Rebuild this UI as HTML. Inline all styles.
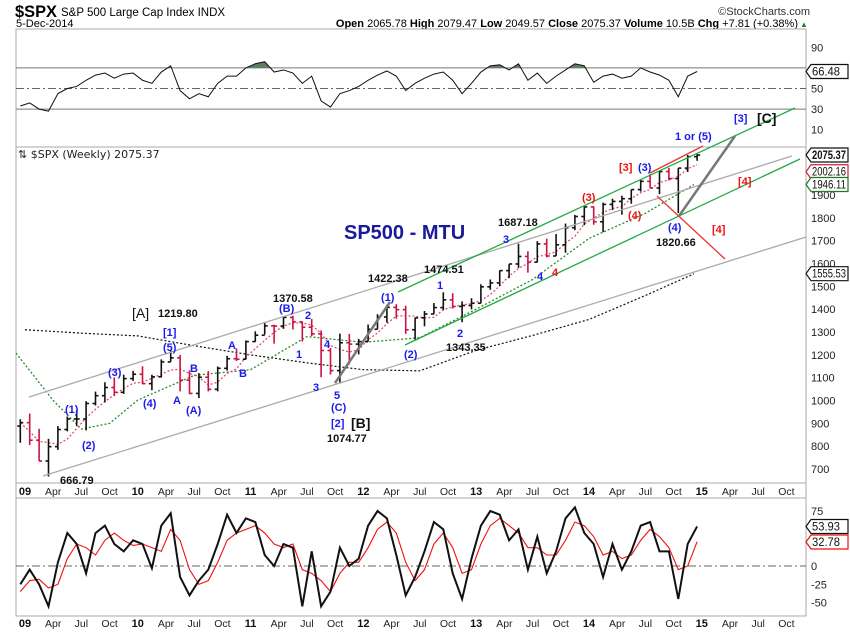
<!DOCTYPE html>
<html><head><meta charset="utf-8"><style>
body{margin:0;background:#fff;}
svg{display:block;font-family:"Liberation Sans",sans-serif;}
</style></head><body>
<svg id="c" width="850" height="633" viewBox="0 0 850 633">
<g>
<text x="15" y="17" font-size="17" font-weight="bold" textLength="42" lengthAdjust="spacingAndGlyphs">$SPX</text>
<text x="61" y="16" font-size="11.5">S&amp;P 500 Large Cap Index INDX</text>
<text x="16" y="27" font-size="11">5-Dec-2014</text>
<text x="810" y="15" font-size="11" text-anchor="end" fill="#333">©StockCharts.com</text>
<text x="798" y="27" font-size="11" text-anchor="end"><tspan font-weight="bold">Open</tspan> 2065.78 <tspan font-weight="bold">High</tspan> 2079.47 <tspan font-weight="bold">Low</tspan> 2049.57 <tspan font-weight="bold">Close</tspan> 2075.37 <tspan font-weight="bold">Volume</tspan> 10.5B <tspan font-weight="bold">Chg</tspan> +7.81 (+0.38%)</text>
<text x="800" y="27" font-size="8" fill="#2a7a2a">▲</text>
</g>
<rect x="16" y="29" width="790" height="587" fill="none" stroke="#aaa"/>
<line x1="16" y1="147" x2="806" y2="147" stroke="#aaa"/>
<rect x="0" y="484" width="850" height="13" fill="#fff"/>
<line x1="16" y1="483" x2="806" y2="483" stroke="#aaa"/>
<line x1="16" y1="498" x2="806" y2="498" stroke="#aaa"/>
<line x1="16" y1="483" x2="16" y2="498" stroke="#aaa"/>
<line x1="806" y1="483" x2="806" y2="498" stroke="#aaa"/>
<g id="rsiG"></g>
<g id="priceG"></g>
<g id="annG">
<g stroke-width="1.3" fill="none">
<line x1="29" y1="397" x2="792" y2="156" stroke="#aaa"/>
<line x1="43" y1="476" x2="806" y2="237" stroke="#aaa"/>
<line x1="398" y1="292" x2="795" y2="108" stroke="#22aa44"/>
<line x1="405" y1="345" x2="800" y2="159" stroke="#22aa44"/>
<line x1="650" y1="173" x2="703" y2="146" stroke="#ee3333"/>
<line x1="657" y1="196" x2="725" y2="259" stroke="#ee3333"/>
<line x1="335" y1="383" x2="390" y2="302" stroke="#777" stroke-width="2.5"/>
<line x1="679" y1="216" x2="735" y2="136" stroke="#777" stroke-width="2.5"/>
</g>
<g font-size="11" font-weight="bold" fill="#111">
<text x="60" y="484">666.79</text><text x="158" y="317">1219.80</text><text x="273" y="302">1370.58</text>
<text x="327" y="442">1074.77</text><text x="368" y="282">1422.38</text><text x="424" y="273">1474.51</text>
<text x="446" y="351">1343.35</text><text x="498" y="226">1687.18</text><text x="656" y="246">1820.66</text>
<text x="132" y="318" font-size="14" font-weight="normal">[A]</text><text x="351" y="428" font-size="14">[B]</text><text x="757" y="123" font-size="14">[C]</text>
</g>
<text x="344" y="239" font-size="20" font-weight="bold" fill="#1a1a9a">SP500 - MTU</text>
<g font-size="11" font-weight="bold" fill="#1a1aee">
<text x="163" y="336">[1]</text><text x="163" y="351">(5)</text><text x="108" y="376">(3)</text><text x="65" y="413">(1)</text>
<text x="82" y="449">(2)</text><text x="143" y="407">(4)</text><text x="173" y="404">A</text><text x="190" y="372">B</text>
<text x="186" y="414">(A)</text><text x="228" y="349">A</text><text x="239" y="377">B</text><text x="279" y="312">(B)</text>
<text x="305" y="319">2</text><text x="296" y="358">1</text><text x="324" y="348">4</text><text x="313" y="391">3</text>
<text x="334" y="399">5</text><text x="331" y="411">(C)</text><text x="331" y="427">[2]</text><text x="381" y="301">(1)</text>
<text x="404" y="358">(2)</text><text x="437" y="289">1</text><text x="457" y="337">2</text><text x="503" y="243">3</text>
<text x="537" y="280">4</text><text x="638" y="171">(3)</text><text x="668" y="231">(4)</text><text x="675" y="140">1 or (5)</text>
<text x="734" y="122">[3]</text>
</g>
<g font-size="11" font-weight="bold" fill="#ee1111">
<text x="552" y="276">4</text><text x="582" y="201">(3)</text><text x="628" y="219">(4)</text><text x="619" y="171">[3]</text>
<text x="712" y="233">[4]</text><text x="738" y="185">[4]</text>
</g>
</g>
<g id="axG"></g>
<g id="macdG"></g>
</svg>
<script>
// ---- data (monthly, Dec 2008 .. Dec 2014) ----
const months = ["Dec08","Jan09","Feb09","Mar09","Apr09","May09","Jun09","Jul09","Aug09","Sep09","Oct09","Nov09","Dec09","Jan10","Feb10","Mar10","Apr10","May10","Jun10","Jul10","Aug10","Sep10","Oct10","Nov10","Dec10","Jan11","Feb11","Mar11","Apr11","May11","Jun11","Jul11","Aug11","Sep11","Oct11","Nov11","Dec11","Jan12","Feb12","Mar12","Apr12","May12","Jun12","Jul12","Aug12","Sep12","Oct12","Nov12","Dec12","Jan13","Feb13","Mar13","Apr13","May13","Jun13","Jul13","Aug13","Sep13","Oct13","Nov13","Dec13","Jan14","Feb14","Mar14","Apr14","May14","Jun14","Jul14","Aug14","Sep14","Oct14","Nov14","Dec14"];
const closes = [903,826,735,798,873,919,919,987,1021,1057,1036,1096,1115,1074,1104,1169,1187,1089,1031,1102,1049,1141,1183,1181,1258,1286,1327,1326,1364,1345,1321,1292,1219,1131,1253,1247,1258,1312,1366,1408,1398,1310,1362,1379,1407,1441,1412,1416,1426,1498,1515,1569,1598,1631,1606,1686,1633,1682,1757,1806,1848,1783,1859,1872,1884,1924,1960,1931,2003,1972,2018,2068,2075];
const highs = [918,943,876,832,888,930,956,997,1039,1080,1101,1113,1130,1150,1113,1180,1220,1200,1132,1120,1129,1149,1196,1228,1263,1303,1344,1332,1366,1371,1346,1357,1307,1230,1293,1292,1270,1333,1378,1419,1422,1415,1363,1392,1427,1474,1470,1434,1448,1509,1530,1570,1597,1687,1654,1698,1709,1729,1775,1813,1849,1850,1867,1884,1897,1924,1968,1992,2005,2019,2018,2075,2079];
const lows = [815,805,735,667,784,865,888,869,978,992,1020,1029,1086,1071,1045,1101,1170,1040,1028,1011,1040,1040,1131,1173,1180,1257,1289,1249,1314,1311,1258,1282,1102,1114,1075,1158,1202,1258,1312,1341,1358,1292,1267,1325,1378,1396,1403,1343,1399,1426,1485,1501,1536,1581,1560,1605,1627,1633,1647,1746,1768,1770,1737,1834,1814,1862,1915,1930,1904,1964,1821,2001,2050];
const ma200T = [0,0.5,1,1.5,2,2.5,3,3.5,4,4.5,5,5.5,5.93];
const ma200V = [1310,1295,1283,1240,1200,1165,1135,1130,1220,1285,1355,1460,1555];
const ma50T = [-0.08,0.25,0.5,0.75,1,1.5,2,2.5,3,3.5,4,4.5,5,5.5,5.93];
const ma50V = [1208,1000,875,900,1002,1110,1135,1280,1255,1275,1400,1530,1710,1820,1946];
const rsiVals = [33,36,30,28,45,50,52,58,63,65,60,64,65,58,55,66,72,48,40,45,42,55,62,62,70,74,76,66,68,65,55,62,38,32,45,48,52,58,63,67,62,48,55,60,64,66,58,45,55,66,72,73,68,74,58,65,55,62,68,74,72,56,62,64,60,62,70,66,63,58,42,62,66.5];
const macdVals = [-25,-5,-25,-55,5,45,30,-10,45,55,30,20,35,30,-3,55,72,-15,-40,-20,-5,30,70,45,65,60,15,0,30,25,-55,20,-55,-35,25,0,10,55,75,65,15,-40,-15,20,60,50,-10,-45,10,55,75,70,35,50,-5,40,-10,20,65,80,45,30,-15,30,-5,20,55,60,20,20,-45,30,54];
const signalVals = [-35,-20,-18,-30,-25,10,30,25,15,35,45,35,28,30,25,20,50,35,-5,-25,-20,5,35,45,50,55,45,30,25,30,-5,-10,-20,-35,-10,5,5,25,50,60,45,5,-20,-5,30,45,25,-10,-5,30,55,65,55,45,25,25,15,15,35,60,55,40,15,20,10,15,35,50,40,25,-5,0,33];
const priceTicks = [700,800,900,1000,1100,1200,1300,1400,1500,1600,1700,1800,1900];
const rsiTicks = [90,50,30,10];
const macdTicks = [75,0,-25,-50];
const yearLabels = ["09","10","11","12","13","14","15"];
const subLabels = ["Apr","Jul","Oct"];

// ---- axes ----
const NS="http://www.w3.org/2000/svg";
const xT = t => 25 + t*112.8;
const xM = i => xT((i-1+0.5)/12);
const yP = p => 469 - (p-700)*0.2283;
const yR = v => 88.5 - (v-50)*1.03;
const yM = v => 566 - v*0.733;
function mk(tag, parent, attrs){const e=document.createElementNS(NS,tag);for(const k in attrs)e.setAttribute(k,attrs[k]);parent.appendChild(e);return e;}
const priceG=document.getElementById('priceG'),rsiG=document.getElementById('rsiG'),macdG=document.getElementById('macdG'),axG=document.getElementById('axG');

// RSI panel
[[70,"none"],[30,"none"],[50,"8,3,2,3"]].forEach(([v,d])=>{
  const l=mk('line',rsiG,{x1:16,x2:806,y1:yR(v),y2:yR(v),stroke:v===50?'#666':'#777','stroke-dasharray':d});
  
  
});
const clip=mk('clipPath',rsiG,{id:'ob'});mk('rect',clip,{x:16,y:29,width:790,height:yR(70)-29});
let rp=`M${xM(0)},${yR(70)} `+rsiVals.map((v,i)=>`L${xM(i)},${yR(v)}`).join(' ')+` L${xM(rsiVals.length-1)},${yR(70)}Z`;
const ob=mk('path',rsiG,{d:rp,fill:'#5e7f5e','clip-path':'url(#ob)'});


const rl=mk('polyline',rsiG,{points:rsiVals.map((v,i)=>xM(i)+','+yR(v)).join(' '),fill:'none',stroke:'#111','stroke-width':1});


rsiTicks.forEach(v=>{const t=mk('text',rsiG,{x:811,y:yR(v)+4,'font-size':11,fill:'#222'});t.textContent=v;
  
  });

// price panel
const pl=mk('text',priceG,{x:18,y:158,'font-size':11,'font-family':'DejaVu Sans, sans-serif',fill:'#222'});pl.textContent='⇅ $SPX (Weekly) 2075.37';


const m200=mk('polyline',priceG,{points:ma200T.map((t,i)=>xT(t)+','+yP(ma200V[i])).join(' '),fill:'none',stroke:'#111','stroke-dasharray':'2,2','stroke-width':1.2});


const m50=mk('polyline',priceG,{points:ma50T.map((t,i)=>xT(t)+','+yP(ma50V[i])).join(' '),fill:'none',stroke:'#2a8a2a','stroke-dasharray':'2,2','stroke-width':1.3});


const ma20=closes.map((c,i)=>{const s=closes.slice(Math.max(0,i-3),i+1);return s.reduce((a,b)=>a+b,0)/s.length;});
const m20=mk('polyline',priceG,{points:ma20.map((v,i)=>xM(i)+','+yP(v)).join(' '),fill:'none',stroke:'#e05070','stroke-dasharray':'2,2','stroke-width':1.3});


closes.forEach((c,i)=>{
  const o=i>0?closes[i-1]:888, col=c<o?'#cc1144':'#111', x=xM(i);
  const g=mk('g',priceG,{stroke:col,'stroke-width':1.6});
  
  
  mk('line',g,{x1:x,x2:x,y1:yP(highs[i]),y2:yP(lows[i])});
  mk('line',g,{x1:x-3,x2:x,y1:yP(o),y2:yP(o)});
  mk('line',g,{x1:x,x2:x+3,y1:yP(c),y2:yP(c)});
});
priceTicks.forEach(v=>{const t=mk('text',priceG,{x:811,y:yP(v)+4,'font-size':11,fill:'#222'});t.textContent=v;
  
  });

// value boxes
function box(g,y,txt,col,bold,name){
  const b=mk('g',g,{});
  
  
  mk('path',b,{d:`M806,${y} L811,${y-7} L848,${y-7} L848,${y+7} L811,${y+7} Z`,fill:'#fff',stroke:col,'stroke-width':1.2});
  const t=mk('text',b,{x:812,y:y+4,'font-size':11.5,'font-weight':bold?'bold':'normal',fill:'#111',textLength:txt.length>5?34:28,lengthAdjust:'spacingAndGlyphs'});t.textContent=txt;
}
box(axG,yP(2075.37),'2075.37','#111',true,'price-last-value');
box(axG,yP(2002.16),'2002.16','#cc2244',false,'ma20-last-value');
box(axG,yP(1946.11),'1946.11','#227722',false,'ma50-last-value');
box(axG,yP(1555.53),'1555.53','#111',false,'ma200-last-value');
box(axG,yR(66.48),'66.48','#111',false,'rsi-last-value');

// x axes
[491,623].forEach(yy=>{
  yearLabels.forEach((lab,k)=>{
    const t=mk('text',axG,{x:xT(k),y:yy+4,'font-size':11,'font-weight':'bold','text-anchor':'middle',fill:'#111'});t.textContent=lab;
    
    
    subLabels.forEach((s,j)=>{const u=mk('text',axG,{x:xT(k+(j+1)*0.25),y:yy+4,'font-size':10.5,'text-anchor':'middle',fill:'#222'});u.textContent=s;
      
      });
  });
});

// MACD panel
const z=mk('line',macdG,{x1:16,x2:806,y1:yM(0),y2:yM(0),stroke:'#666','stroke-dasharray':'8,3,2,3'});


const sl=mk('polyline',macdG,{points:signalVals.map((v,i)=>xM(i)+','+yM(v)).join(' '),fill:'none',stroke:'#ee1111','stroke-width':1.1});


const ml=mk('polyline',macdG,{points:macdVals.map((v,i)=>xM(i)+','+yM(v)).join(' '),fill:'none',stroke:'#111','stroke-width':2});


macdTicks.forEach(v=>{const t=mk('text',macdG,{x:811,y:yM(v)+4,'font-size':11,fill:'#222'});t.textContent=v;
  
  });
box(macdG,yM(53.93),'53.93','#111',false,'macd-last-value');
box(macdG,yM(32.78),'32.78','#ee1111',false,'signal-last-value');
</script>
</body></html>
